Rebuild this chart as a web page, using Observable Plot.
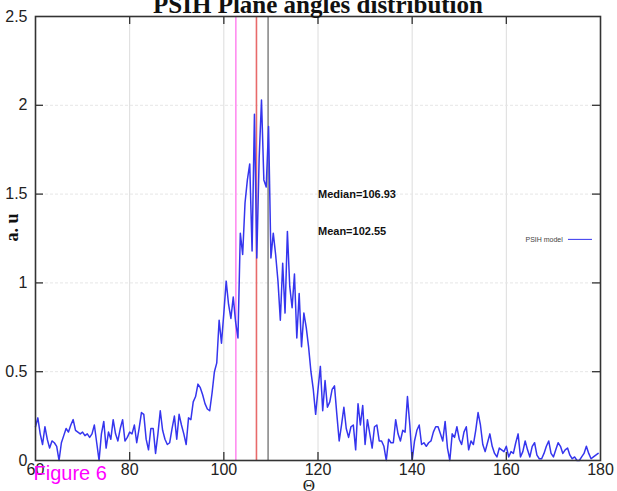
<!DOCTYPE html>
<html><head><meta charset="utf-8">
<script src="https://cdn.jsdelivr.net/npm/d3@7"></script>
<script src="https://cdn.jsdelivr.net/npm/@observablehq/plot@0.6"></script>
<style>body{margin:0;background:#fff} svg{display:block;overflow:hidden}</style>
</head><body><div id="chart"></div>
<script>
const theta = [
 60,60.5,61,61.5,62,62.5,63,63.5,64,64.5,65,65.5,66,66.5,67,67.5,68,68.5,69,69.5,
 70,70.5,71,71.5,72,72.5,73,73.5,74,74.5,75,75.5,76,76.5,77,77.5,78,78.5,79,79.5,
 80,80.5,81,81.5,82,82.5,83,83.5,84,84.5,85,85.5,86,86.5,87,87.5,88,88.5,89,89.5,
 90,90.5,91,91.5,92,92.5,93,93.5,94,94.5,95,95.5,96,96.5,97,97.5,98,98.5,99,99.5,
 100,100.5,101,101.5,102,102.5,103,103.5,104,104.5,105,105.5,106,106.5,107,107.5,108,108.5,109,109.5,
 110,110.5,111,111.5,112,112.5,113,113.5,114,114.5,115,115.5,116,116.5,117,117.5,118,118.5,119,119.5,
 120,120.5,121,121.5,122,122.5,123,123.5,124,124.5,125,125.5,126,126.5,127,127.5,128,128.5,129,129.5,
 130,130.5,131,131.5,132,132.5,133,133.5,134,134.5,135,135.5,136,136.5,137,137.5,138,138.5,139,139.5,
 140,140.5,141,141.5,142,142.5,143,143.5,144,144.5,145,145.5,146,146.5,147,147.5,148,148.5,149,149.5,
 150,150.5,151,151.5,152,152.5,153,153.5,154,154.5,155,155.5,156,156.5,157,157.5,158,158.5,159,159.5,
 160,160.5,161,161.5,162,162.5,163,163.5,164,164.5,165,165.5,166,166.5,167,167.5,168,168.5,169,169.5,
 170,170.5,171,171.5,172,172.5,173,173.5,174,174.5,175,175.5,176,176.5,177,177.5,178,178.5,179,179.5
];
const psih = [
 0.19,0.24,0.15,0.09,0.19,0.12,0.07,0.11,0.10,0.08,0.00,0.10,0.14,0.18,0.16,0.20,0.23,0.17,0.16,0.15,
 0.16,0.14,0.15,0.13,0.15,0.20,0.10,0.00,0.15,0.22,0.07,0.16,0.12,0.23,0.15,0.11,0.18,0.23,0.11,0.13,
 0.16,0.15,0.20,0.10,0.18,0.27,0.26,0.12,0.06,0.18,0.18,0.04,0.15,0.28,0.17,0.12,0.09,0.10,0.18,0.25,
 0.12,0.26,0.20,0.15,0.09,0.24,0.23,0.33,0.36,0.43,0.41,0.37,0.32,0.29,0.28,0.38,0.50,0.55,0.79,0.66,
 0.83,1.01,0.88,0.80,0.92,0.78,0.69,1.28,1.16,1.45,1.58,1.67,1.18,1.95,1.14,1.70,2.03,1.58,1.54,1.88,
 1.14,1.28,1.16,1.01,0.79,1.11,0.83,1.29,0.98,0.86,1.05,0.69,0.94,0.64,0.83,0.75,0.64,0.50,0.40,0.26,
 0.40,0.53,0.28,0.45,0.30,0.33,0.40,0.42,0.26,0.11,0.20,0.30,0.18,0.13,0.19,0.20,0.06,0.32,0.20,0.31,
 0.09,0.23,0.15,0.07,0.19,0.20,0.11,0.11,0.08,0.00,0.12,0.10,0.10,0.23,0.15,0.11,0.17,0.16,0.36,0.20,
 0.00,0.11,0.17,0.20,0.09,0.10,0.08,0.10,0.11,0.16,0.19,0.19,0.15,0.11,0.22,0.07,0.00,0.15,0.13,0.19,
 0.12,0.09,0.16,0.19,0.06,0.11,0.09,0.17,0.27,0.20,0.09,0.05,0.10,0.15,0.08,0.04,0.02,0.07,0.06,0.05,
 0.08,0.02,0.05,0.04,0.10,0.15,0.02,0.05,0.11,0.06,0.02,0.08,0.10,0.03,0.01,0.01,0.04,0.08,0.11,0.04,
 0.02,0.06,0.10,0.08,0.04,0.06,0.07,0.03,0.01,0.02,0.00,0.00,0.02,0.04,0.08,0.04,0.01,0.02,0.03,0.04
];
const xTicks = [60, 80, 100, 120, 140, 160, 180];
const yTicks = [0, 0.5, 1, 1.5, 2, 2.5];
const meanTheta = 102.55;
const medianTheta = 106.93;
const peakTheta = 109.4;
const statLabels = [
  {x: 120, y: 1.5, text: "Median=106.93"},
  {x: 120, y: 1.29, text: "Mean=102.55"}
];
const legendLabel = "PSIH model";
const legendPos = {x: 172.0, y: 1.245, x1: 173.2, x2: 178.3};

const series = theta.map((t, i) => ({theta: t, v: psih[i]}));
const innerX = xTicks.slice(1, -1);
const innerY = yTicks.slice(1, -1);
const blue = "#3535ee";

const chart = Plot.plot({
  width: 617,
  height: 491,
  marginLeft: 35,
  marginRight: 17,
  marginTop: 16,
  marginBottom: 31,
  x: {domain: [60, 180]},
  y: {domain: [0, 2.5]},
  style: {fontFamily: "Liberation Sans, Arial, sans-serif", fontSize: "16px", color: "#222", background: "#fff"},
  marks: [
    Plot.gridX(innerX, {stroke: "#dcdcdc", strokeOpacity: 1}),
    Plot.gridY(innerY, {stroke: "#e6e6e6", strokeOpacity: 1, strokeDasharray: "3,2"}),
    Plot.ruleX([meanTheta], {stroke: "#ff8cf0", strokeWidth: 1.6}),
    Plot.ruleX([medianTheta], {stroke: "#e86a6a", strokeWidth: 1.6}),
    Plot.ruleX([peakTheta], {stroke: "#8a8a8a", strokeWidth: 1.6}),
    Plot.line(series, {x: "theta", y: "v", stroke: blue, strokeWidth: 1.5}),
    // inward ticks
    Plot.ruleX(innerX, {y1: 0, y2: 0.045, stroke: "#333", strokeWidth: 1.3}),
    Plot.ruleX(innerX, {y1: 2.5, y2: 2.455, stroke: "#333", strokeWidth: 1.3}),
    Plot.ruleY(innerY, {x1: 60, x2: 61.7, stroke: "#333", strokeWidth: 1.3}),
    Plot.ruleY(innerY, {x1: 180, x2: 178.3, stroke: "#333", strokeWidth: 1.3}),
    Plot.frame({stroke: "#333", strokeWidth: 1.6}),
    Plot.axisX(xTicks, {tickSize: 0, tickPadding: 3, label: null, fontSize: 16}),
    Plot.axisY(yTicks, {tickSize: 0, tickPadding: 8, label: null, fontSize: 16, tickFormat: d => String(d)}),
    Plot.text(statLabels, {x: "x", y: "y", text: "text", textAnchor: "start", fontWeight: "bold", fontSize: 11, fill: "#111"}),
    Plot.text([legendPos], {x: "x", y: "y", text: () => legendLabel, textAnchor: "end", fontSize: 7, fill: "#444"}),
    Plot.ruleY([legendPos], {x1: "x1", x2: "x2", y: "y", stroke: blue, strokeWidth: 1}),
    Plot.text(["PSIH Plane angles distribution"], {frameAnchor: "top", lineAnchor: "bottom", dy: -4, fontSize: 25, fontWeight: "bold", fontFamily: "Liberation Serif, Times New Roman, serif", fill: "#111"}),
    Plot.text(["a. u"], {frameAnchor: "left", rotate: -90, dx: -23, dy: 3, fontSize: 18, fontWeight: "bold", fontFamily: "Liberation Serif, Times New Roman, serif", fill: "#111"}),
    Plot.text(["Θ"], {frameAnchor: "bottom", lineAnchor: "bottom", dx: -9, dy: 30, fontSize: 17, fontFamily: "Liberation Serif, Times New Roman, serif", fill: "#222"}),
    Plot.text(["Figure 6"], {frameAnchor: "bottom-left", textAnchor: "start", lineAnchor: "bottom", dx: -2, dy: 19, fontSize: 20, fill: "#ff00ff"})
  ]
});
document.getElementById("chart").appendChild(chart);
</script>
</body></html>
